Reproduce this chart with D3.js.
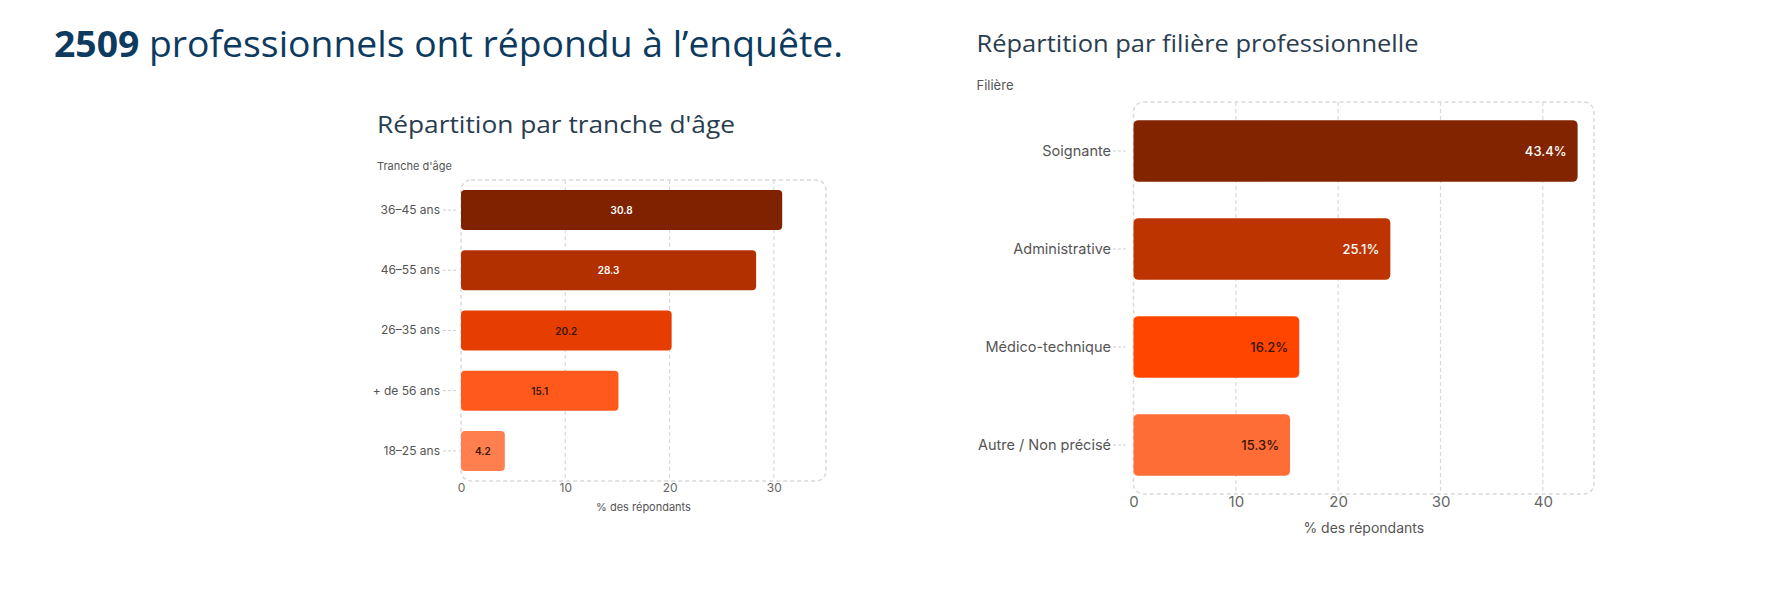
<!DOCTYPE html>
<html>
<head>
<meta charset="utf-8">
<script src="https://cdn.jsdelivr.net/npm/d3@7"></script>
<style>
  html, body { margin: 0; padding: 0; background: #fff; }
  svg { display: block; }
</style>
</head>
<body>
<svg id="chart" width="1768" height="612"></svg>
<script>
// ---------- DATA ----------
const headerNumber = "2509";
const headerText = " professionnels ont répondu à l’enquête.";

const ageTitle = "Répartition par tranche d'âge";
const ageAxisLabel = "Tranche d'âge";
const ageCategories = ["36–45 ans", "46–55 ans", "26–35 ans", "+ de 56 ans", "18–25 ans"];
const ageValues = [30.8, 28.3, 20.2, 15.1, 4.2];
const ageLabels = ["30.8", "28.3", "20.2", "15.1", "4.2"];
const ageColors = ["#7f2200", "#b23000", "#e63e00", "#ff5a1c", "#ff7f4e"];
const ageLabelColors = ["#ffffff", "#ffffff", "#3a1404", "#3a1404", "#3a1404"];
const ageTicks = [0, 10, 20, 30];
const ageDomainMax = 35;

const filTitle = "Répartition par filière professionnelle";
const filAxisLabel = "Filière";
const filCategories = ["Soignante", "Administrative", "Médico-technique", "Autre / Non précisé"];
const filValues = [43.4, 25.1, 16.2, 15.3];
const filLabels = ["43.4%", "25.1%", "16.2%", "15.3%"];
const filColors = ["#822400", "#bd3400", "#ff4500", "#ff6d37"];
const filLabelColors = ["#ffffff", "#ffffff", "#3a1404", "#3a1404"];
const filTicks = [0, 10, 20, 30, 40];
const filDomainMax = 45;

const xTitle = "% des répondants";

// ---------- LAYOUT ----------
const svg = d3.select("#chart");
const AXIS_FONT = "Inter, 'Noto Sans', sans-serif";
const TITLE_FONT = "'Open Sans', 'Noto Sans', sans-serif";

function fitWidth(sel, target) {
  const node = sel.node();
  const w = node.getComputedTextLength();
  if (w > 0) sel.attr("textLength", target).attr("lengthAdjust", "spacingAndGlyphs");
}

// Header
const header = svg.append("text")
  .attr("x", 54).attr("y", 57)
  .attr("font-family", TITLE_FONT)
  .attr("font-size", 36)
  .attr("fill", "#0d3a5f");
header.append("tspan").attr("font-weight", 700).text(headerNumber);
header.append("tspan").attr("font-weight", 400).text(headerText);
fitWidth(header, 789);

function drawChart(cfg) {
  const g = svg.append("g");
  const x = d3.scaleLinear().domain([0, cfg.domainMax]).range([cfg.left, cfg.right]);
  const y = d3.scaleBand().domain(cfg.categories)
    .range([cfg.top, cfg.bottom])
    .paddingInner(cfg.padding).paddingOuter(cfg.padding / 2);

  // Title
  const t = g.append("text")
    .attr("x", cfg.titleX).attr("y", cfg.titleY)
    .attr("font-family", TITLE_FONT)
    .attr("font-size", cfg.titleSize)
    .attr("font-weight", 500)
    .attr("fill", "#2a3d4f")
    .text(cfg.title);
  fitWidth(t, cfg.titleWidth);

  // Y axis label
  g.append("text")
    .attr("x", cfg.titleX).attr("y", cfg.axisLabelY)
    .attr("dominant-baseline", "middle")
    .attr("font-family", AXIS_FONT)
    .attr("font-size", cfg.axisLabelSize)
    .attr("fill", "#555")
    .text(cfg.axisLabel);

  // Grid lines
  const grid = cfg.ticks.filter(d => d > 0);
  g.append("g").selectAll("line").data(grid).join("line")
    .attr("x1", d => x(d)).attr("x2", d => x(d))
    .attr("y1", cfg.top).attr("y2", cfg.bottom)
    .attr("stroke", "#d9d9d9").attr("stroke-width", 1.2)
    .attr("stroke-dasharray", "4,3");

  // Frame
  g.append("rect")
    .attr("x", x(0)).attr("y", cfg.top)
    .attr("width", x(cfg.domainMax) - x(0))
    .attr("height", cfg.bottom - cfg.top)
    .attr("rx", 10).attr("ry", 10)
    .attr("fill", "none")
    .attr("stroke", "#d9d9d9").attr("stroke-width", 1.5)
    .attr("stroke-dasharray", "4,3");

  // Bars
  g.append("g").selectAll("rect").data(cfg.values).join("rect")
    .attr("x", x(0))
    .attr("y", (d, i) => y(cfg.categories[i]))
    .attr("width", d => x(d) - x(0))
    .attr("height", y.bandwidth())
    .attr("rx", cfg.barRadius).attr("ry", cfg.barRadius)
    .attr("fill", (d, i) => cfg.colors[i]);

  // Bar labels
  g.append("g").selectAll("text").data(cfg.values).join("text")
    .attr("x", d => cfg.labelAlign === "middle" ? (x(0) + x(d)) / 2 : x(d) - cfg.labelInset)
    .attr("y", (d, i) => y(cfg.categories[i]) + y.bandwidth() / 2)
    .attr("text-anchor", cfg.labelAlign)
    .attr("dominant-baseline", "central")
    .attr("font-family", AXIS_FONT)
    .attr("font-size", cfg.labelSize)
    .attr("font-weight", cfg.labelWeight)
    .attr("fill", (d, i) => cfg.labelColors[i])
    .text((d, i) => cfg.labels[i]);

  // Y axis (category labels with dashed ticks)
  const yAxis = g.append("g")
    .attr("transform", `translate(${cfg.yAxisX},0)`)
    .call(d3.axisLeft(y).tickSize(cfg.yTickSize).tickPadding(cfg.yTickPad));
  yAxis.select(".domain").remove();
  yAxis.selectAll(".tick line")
    .attr("stroke", "#cfcfcf").attr("stroke-dasharray", "3,2");
  yAxis.selectAll(".tick text")
    .attr("font-family", AXIS_FONT)
    .attr("font-size", cfg.catSize)
    .attr("fill", "#555");

  // X axis
  const xAxis = g.append("g")
    .attr("transform", `translate(0,${cfg.xAxisY})`)
    .call(d3.axisBottom(x).tickValues(cfg.ticks).tickSize(0).tickPadding(0));
  xAxis.select(".domain").remove();
  xAxis.selectAll(".tick text")
    .attr("dy", null)
    .attr("dominant-baseline", "middle")
    .attr("font-family", AXIS_FONT)
    .attr("font-size", cfg.tickSize)
    .attr("fill", "#666");

  // X title
  g.append("text")
    .attr("x", (cfg.left + cfg.right) / 2).attr("y", cfg.xTitleY)
    .attr("text-anchor", "middle")
    .attr("dominant-baseline", "middle")
    .attr("font-family", AXIS_FONT)
    .attr("font-size", cfg.xTitleSize)
    .attr("fill", "#555")
    .text(xTitle);
}

drawChart({
  title: ageTitle, titleX: 377, titleY: 133, titleSize: 23, titleWidth: 358,
  axisLabel: ageAxisLabel, axisLabelY: 167, axisLabelSize: 11,
  categories: ageCategories, values: ageValues, labels: ageLabels,
  colors: ageColors, labelColors: ageLabelColors, ticks: ageTicks, domainMax: ageDomainMax,
  left: 461, right: 826, top: 180, bottom: 481, padding: 0.335,
  barRadius: 4, labelAlign: "middle", labelInset: 0, labelSize: 10, labelWeight: 600,
  yAxisX: 456, yTickSize: 13, yTickPad: 3, catSize: 12,
  xAxisY: 489, tickSize: 12, xTitleY: 508, xTitleSize: 11
});

drawChart({
  title: filTitle, titleX: 976.5, titleY: 52, titleSize: 23, titleWidth: 442,
  axisLabel: filAxisLabel, axisLabelY: 86, axisLabelSize: 13,
  categories: filCategories, values: filValues, labels: filLabels,
  colors: filColors, labelColors: filLabelColors, ticks: filTicks, domainMax: filDomainMax,
  left: 1133.5, right: 1594, top: 102, bottom: 494, padding: 0.37,
  barRadius: 5, labelAlign: "end", labelInset: 11, labelSize: 13, labelWeight: 500,
  yAxisX: 1126, yTickSize: 13, yTickPad: 2, catSize: 14.5,
  xAxisY: 503, tickSize: 15, xTitleY: 529, xTitleSize: 14
});
</script>
</body>
</html>
